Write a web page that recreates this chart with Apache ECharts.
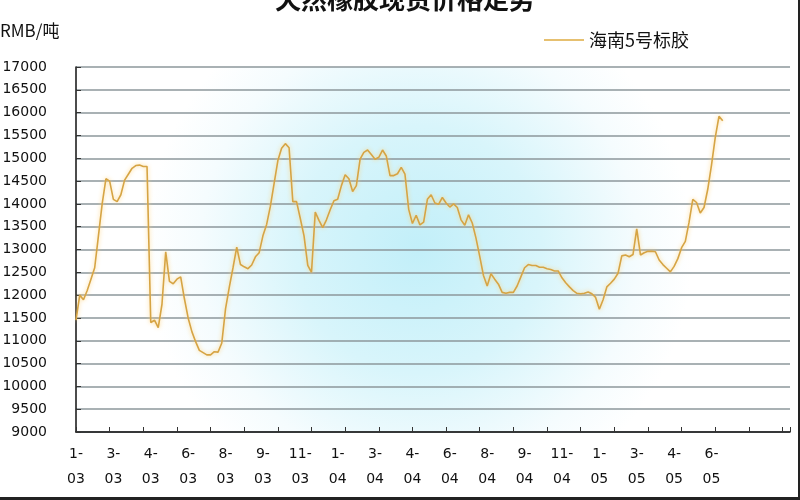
<!DOCTYPE html>
<html>
<head>
<meta charset="utf-8">
<script src="https://cdn.jsdelivr.net/npm/echarts@6/dist/echarts.min.js"></script>
<style>
  html, body { margin: 0; padding: 0; background: #fff; }
  #chart { width: 798px; height: 497px; border-right: 2px solid #222; border-bottom: 3px solid #222; }
</style>
</head>
<body>
<div id="chart"></div>
<script>
// X tick labels (month-year), one every 10 categories
const tickLabels = ['1-\n03','3-\n03','4-\n03','6-\n03','8-\n03','9-\n03','11-\n03',
  '1-\n04','3-\n04','4-\n04','6-\n04','8-\n04','9-\n04','11-\n04',
  '1-\n05','3-\n05','4-\n05','6-\n05'];
const categoryCount = 192;
const labelEvery = 10;

// 海南5号标胶 spot price, RMB/吨
const prices = [
  11450,12000,11900,12100,12350,12600,13300,14000,14550,14500,
  14100,14050,14200,14520,14650,14780,14840,14850,14820,14820,
  11400,11450,11290,11800,12950,12300,12250,12350,12400,11920,
  11500,11200,10980,10790,10740,10690,10690,10760,10750,10950,
  11700,12170,12600,13050,12670,12620,12580,12660,12840,12930,
  13300,13550,13950,14450,14950,15220,15320,15230,14050,14050,
  13680,13300,12650,12500,13820,13640,13480,13650,13870,14070,
  14100,14400,14640,14550,14270,14400,14980,15130,15180,15080,
  14980,15020,15180,15050,14620,14620,14660,14800,14650,13880,
  13570,13750,13540,13600,14100,14200,14020,13990,14140,14020,
  13930,14000,13920,13650,13530,13760,13580,13250,12850,12430,
  12200,12470,12350,12240,12060,12040,12060,12060,12200,12400,
  12600,12670,12650,12650,12610,12610,12580,12560,12530,12530,
  12380,12270,12180,12100,12040,12030,12040,12070,12030,11950,
  11690,11900,12180,12260,12350,12480,12860,12880,12840,12890,
  13450,12880,12930,12960,12960,12950,12770,12670,12590,12510,
  12630,12800,13040,13180,13600,14100,14030,13800,13920,14320,
  14850,15450,15920,15820
];

const seriesName = '海南5号标胶';
const titleText = '天然橡胶现货价格走势';
const unitText = 'RMB/吨';

const categories = [];
for (let i = 0; i < categoryCount; i++) {
  categories.push(i % labelEvery === 0 && tickLabels[i / labelEvery] ? tickLabels[i / labelEvery] : '');
}

const chart = echarts.init(document.getElementById('chart'), null, { renderer: 'canvas' });
chart.setOption({
  animation: false,
  backgroundColor: '#ffffff',
  title: [
    { text: titleText, left: 275, top: -14, padding: 0,
      textStyle: { fontFamily: 'Noto Sans CJK SC', fontSize: 26, fontWeight: 'bold', color: '#111' } },
    { text: unitText, left: 0, top: 22, padding: 0,
      textStyle: { fontFamily: 'Noto Sans CJK SC', fontSize: 17, fontWeight: 'normal', color: '#111' } }
  ],
  legend: {
    data: [{ name: seriesName, icon: 'rect' }],
    left: 544, top: 31, padding: 0,
    itemWidth: 40, itemHeight: 2, itemGap: 8,
    textStyle: { fontFamily: 'Noto Sans CJK SC', fontSize: 18, color: '#111', padding: [0, 0, 0, 0] }
  },
  grid: {
    left: 76, right: 8, top: 67, bottom: 65,
    outerBoundsMode: 'none',
    containLabel: false,
    show: true, borderWidth: 0,
    backgroundColor: {
      type: 'radial', x: 0.48, y: 0.5, r: 0.75,
      colorStops: [
        { offset: 0, color: '#c2eff9' },
        { offset: 0.45, color: '#d8f5fb' },
        { offset: 0.8, color: '#f5fcfe' },
        { offset: 1, color: '#ffffff' }
      ]
    }
  },
  xAxis: {
    type: 'category',
    data: categories,
    boundaryGap: false,
    axisLine: { lineStyle: { color: '#111', width: 1.5 } },
    axisTick: { inside: true, length: 5, interval: 8, lineStyle: { color: '#333' } },
    axisLabel: {
      interval: 0, margin: 10, color: '#111',
      fontFamily: 'DejaVu Sans', fontSize: 14, lineHeight: 25
    },
    splitLine: { show: false }
  },
  yAxis: {
    type: 'value',
    min: 9000, max: 17000, interval: 500,
    axisLine: { show: true, lineStyle: { color: '#111', width: 1.5 } },
    axisTick: { show: true, inside: true, length: 5, lineStyle: { color: '#333' } },
    axisLabel: { margin: 29, color: '#111', fontFamily: 'DejaVu Sans', fontSize: 14,
      formatter: function (v) { return String(v); } },
    splitLine: { show: true, lineStyle: { color: '#8d979b', width: 1.5 } }
  },
  series: [{
    name: seriesName,
    type: 'line',
    data: prices,
    showSymbol: false,
    symbol: 'none',
    itemStyle: { color: '#e6c070' },
    lineStyle: { color: '#d6a444', width: 1.6, shadowColor: 'rgba(255,210,120,0.9)', shadowBlur: 4 }
  }]
});
</script>
</body>
</html>
